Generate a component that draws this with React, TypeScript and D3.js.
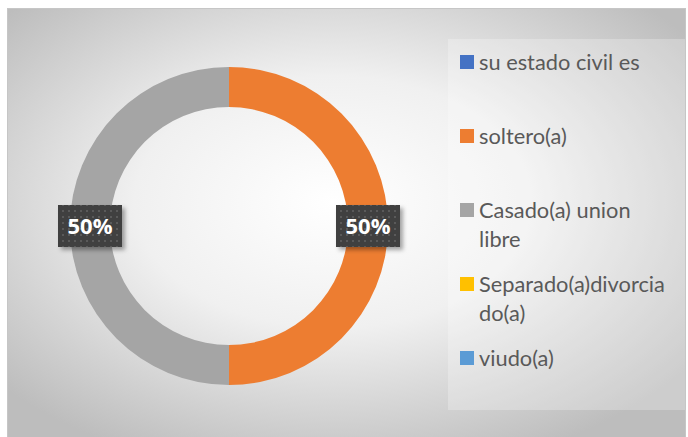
import React from 'react';
import * as d3 from 'd3';

const categories = ['su estado civil es', 'soltero(a)', 'Casado(a) union libre', 'Separado(a)divorciado(a)', 'viudo(a)'];
const values = [0, 1, 1, 0, 0];
const colors = ['#4472C4', '#ED7D31', '#A5A5A5', '#FFC000', '#5B9BD5'];
// legend text split the way the original wraps it
const legendLines = [['su estado civil es'], ['soltero(a)'], ['Casado(a) union', 'libre'], ['Separado(a)divorcia', 'do(a)'], ['viudo(a)']];
const legendY = [62, 136, 210, 284, 358];

const W = 688;
const H = 437;

export default function App() {
  const cx = 229;
  const cy = 226;
  const outer = 159;
  const inner = 119;

  const pie = d3.pie<number>().sort(null).value((d) => d);
  const arcs = pie(values);
  const arc = d3.arc<d3.PieArcDatum<number>>().innerRadius(inner).outerRadius(outer);
  const labelArc = d3.arc<d3.PieArcDatum<number>>().innerRadius((inner + outer) / 2).outerRadius((inner + outer) / 2);
  const total = d3.sum(values);
  const fmt = d3.format('.0%');

  return (
    <svg width={W} height={H} style={{ position: 'absolute', left: 0, top: 0, fontFamily: 'Lato, sans-serif' }}>
      <defs>
        <radialGradient id="bg" cx="48%" cy="45%" r="65%">
          <stop offset="0%" stopColor="#ffffff" />
          <stop offset="45%" stopColor="#f0f0f0" />
          <stop offset="100%" stopColor="#bdbdbd" />
        </radialGradient>
        <pattern id="dots" width="6" height="6" patternUnits="userSpaceOnUse">
          <rect width="6" height="6" fill="#404040" />
          <rect x="2" y="2" width="2" height="2" fill="#5a5a5a" />
        </pattern>
        <filter id="shadow" x="-20%" y="-20%" width="150%" height="160%">
          <feDropShadow dx="3" dy="3" stdDeviation="2" floodColor="#000" floodOpacity="0.35" />
        </filter>
      </defs>
      <rect x={7.5} y={8.5} width={678} height={430} fill="url(#bg)" stroke="#c6c6c6" />
      <rect x={448} y={39} width={237} height={371} fill="#ffffff" opacity={0.25} />

      <g>
        {arcs.map((a, i) =>
          a.value > 0 ? <path key={i} d={arc(a) || ''} transform={`translate(${cx},${cy})`} fill={colors[i]} /> : null
        )}
      </g>

      <g>
        {arcs.map((a, i) => {
          if (a.value <= 0) return null;
          const [lx, ly] = labelArc.centroid(a);
          const bw = 64;
          const bh = 42;
          return (
            <g key={i} transform={`translate(${cx + lx},${cy + ly})`}>
              <rect x={-bw / 2} y={-bh / 2} width={bw} height={bh} fill="url(#dots)" filter="url(#shadow)" />
              <text textAnchor="middle" dy="0.36em" fill="#ffffff" fontWeight="bold" fontSize={22} fontFamily="Open Sans, sans-serif">
                {fmt(a.value / total)}
              </text>
            </g>
          );
        })}
      </g>

      <g>
        {categories.map((c, i) => (
          <g key={c} transform={`translate(460,${legendY[i]})`}>
            <rect x={0} y={-7} width={14} height={14} fill={colors[i]} />
            {legendLines[i].map((t, j) => (
              <text key={j} x={19} y={j * 29} dy="0.35em" fill="#595959" fontSize={21.8}>
                {t}
              </text>
            ))}
          </g>
        ))}
      </g>
    </svg>
  );
}
